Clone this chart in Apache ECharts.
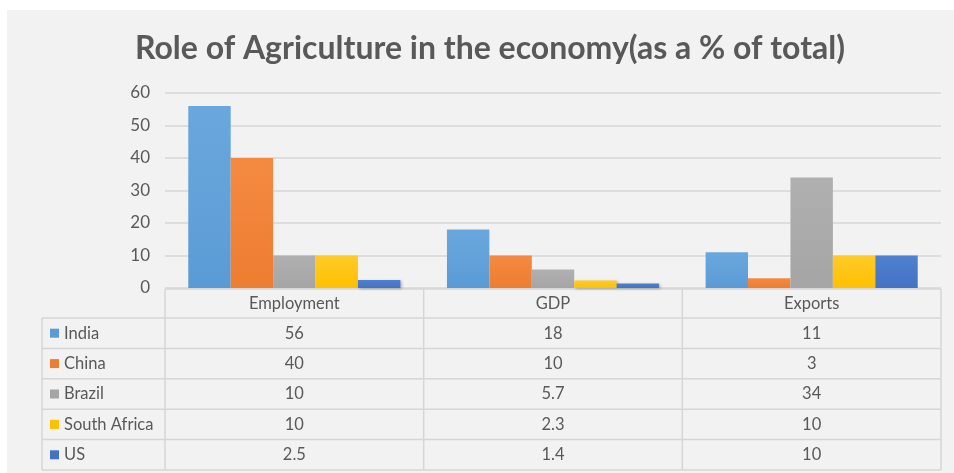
<!DOCTYPE html>
<html>
<head>
<meta charset="utf-8">
<script src="https://cdn.jsdelivr.net/npm/echarts@6/dist/echarts.min.js"></script>
<style>
  html, body { margin: 0; padding: 0; background: #ffffff; }
  #chart { width: 954px; height: 473px; }
</style>
</head>
<body>
<div id="chart"></div>
<script>
// Share of agriculture in each sector, per country
const categories = ['Employment', 'GDP', 'Exports'];
const countries = ['India', 'China', 'Brazil', 'South Africa', 'US'];
const india = [56, 18, 11];
const china = [40, 10, 3];
const brazil = [10, 5.7, 34];
const southAfrica = [10, 2.3, 10];
const us = [2.5, 1.4, 10];
const seriesValues = [india, china, brazil, southAfrica, us];
const yTicks = [0, 10, 20, 30, 40, 50, 60];

const colors = ['#5B9BD5', '#ED7D31', '#A5A5A5', '#FFC000', '#4472C4'];
const colorsLight = ['#6AA7DE', '#F48A41', '#B0B0B0', '#FFCB2A', '#5080D0'];
const textColor = '#595959';
const lineColor = '#d6d6d6';
const font = 'Lato, "Open Sans", sans-serif';

const GRID = { left: 165, right: 13, top: 93, bottom: 185 };
const ROW_H = 30.4;
const HEADER_H = 29;
const TABLE_LEFT = 42;

const chart = echarts.init(document.getElementById('chart'), null, { renderer: 'canvas' });

const series = countries.map((name, i) => ({
  name,
  type: 'bar',
  barGap: '0%',
  barCategoryGap: '18%',
  data: seriesValues[i],
  itemStyle: {
    color: new echarts.graphic.LinearGradient(0, 0, 0, 1, [
      { offset: 0, color: colorsLight[i] },
      { offset: 1, color: colors[i] }
    ]),
    shadowBlur: 3,
    shadowOffsetX: 1.5,
    shadowOffsetY: 1,
    shadowColor: 'rgba(0,0,0,0.25)'
  }
}));

chart.setOption({
  animation: false,
  backgroundColor: '#ffffff',
  title: {
    text: 'Role of Agriculture in the economy(as a % of total)',
    left: 485,
    textAlign: 'center',
    top: 28,
    textStyle: { fontFamily: font, fontSize: 32, fontWeight: 'bold', color: textColor }
  },
  grid: { left: GRID.left, right: GRID.right, top: GRID.top, bottom: GRID.bottom },
  xAxis: {
    type: 'category',
    data: categories,
    axisLine: { show: false },
    axisTick: { show: false },
    axisLabel: { show: false }
  },
  yAxis: {
    type: 'value',
    min: yTicks[0],
    max: yTicks[yTicks.length - 1],
    interval: 10,
    axisLine: { show: false },
    axisTick: { show: false },
    axisLabel: { color: textColor, fontFamily: font, fontSize: 17, margin: 15 },
    splitLine: { lineStyle: { color: lineColor, width: 1.5 } }
  },
  series,
  graphic: [{
    type: 'rect', z: -10, silent: true,
    shape: { x: 7, y: 10, width: 954, height: 473 },
    style: { fill: '#f2f2f2' }
  }]
});

// Data table beneath the plot, aligned with the category axis
function drawTable() {
  const els = [];
  const plotBottom = chart.convertToPixel({ yAxisIndex: 0 }, 0);
  const right = 954 - GRID.right;
  const top = plotBottom + 1;
  const rowsTop = top + HEADER_H;
  const bottom = rowsTop + ROW_H * countries.length;
  const step = (right - GRID.left) / categories.length;
  const lineStyle = { stroke: lineColor, lineWidth: 1.5 };
  const cellFont = '16.5px ' + font;

  // horizontal lines
  els.push({ type: 'line', shape: { x1: GRID.left, y1: top, x2: right, y2: top }, style: lineStyle });
  for (let r = 0; r <= countries.length; r++) {
    const y = rowsTop + r * ROW_H;
    els.push({ type: 'line', shape: { x1: TABLE_LEFT, y1: y, x2: right, y2: y }, style: lineStyle });
  }
  // vertical lines
  els.push({ type: 'line', shape: { x1: TABLE_LEFT, y1: rowsTop, x2: TABLE_LEFT, y2: bottom }, style: lineStyle });
  for (let c = 0; c <= categories.length; c++) {
    const x = GRID.left + c * step;
    els.push({ type: 'line', shape: { x1: x, y1: top, x2: x, y2: bottom }, style: lineStyle });
  }
  // header
  categories.forEach((cat) => {
    const cx = chart.convertToPixel({ xAxisIndex: 0 }, cat);
    els.push({
      type: 'text', x: cx, y: top + HEADER_H / 2,
      style: { text: cat, fill: textColor, font: cellFont, align: 'center', verticalAlign: 'middle' }
    });
  });
  // rows
  countries.forEach((name, r) => {
    const cy = rowsTop + r * ROW_H + ROW_H / 2;
    els.push({ type: 'rect', shape: { x: TABLE_LEFT + 8, y: cy - 4.5, width: 9, height: 9 }, style: { fill: colors[r] } });
    els.push({
      type: 'text', x: TABLE_LEFT + 22, y: cy,
      style: { text: name, fill: textColor, font: cellFont, align: 'left', verticalAlign: 'middle' }
    });
    categories.forEach((cat, c) => {
      const cx = chart.convertToPixel({ xAxisIndex: 0 }, cat);
      els.push({
        type: 'text', x: cx, y: cy,
        style: { text: String(seriesValues[r][c]), fill: textColor, font: cellFont, align: 'center', verticalAlign: 'middle' }
      });
    });
  });

  chart.setOption({
    graphic: [{
      type: 'rect', z: -10, silent: true,
      shape: { x: 7, y: 10, width: 954, height: 473 },
      style: { fill: '#f2f2f2' }
    }, { type: 'group', silent: true, children: els }]
  });
}
drawTable();
</script>
</body>
</html>
